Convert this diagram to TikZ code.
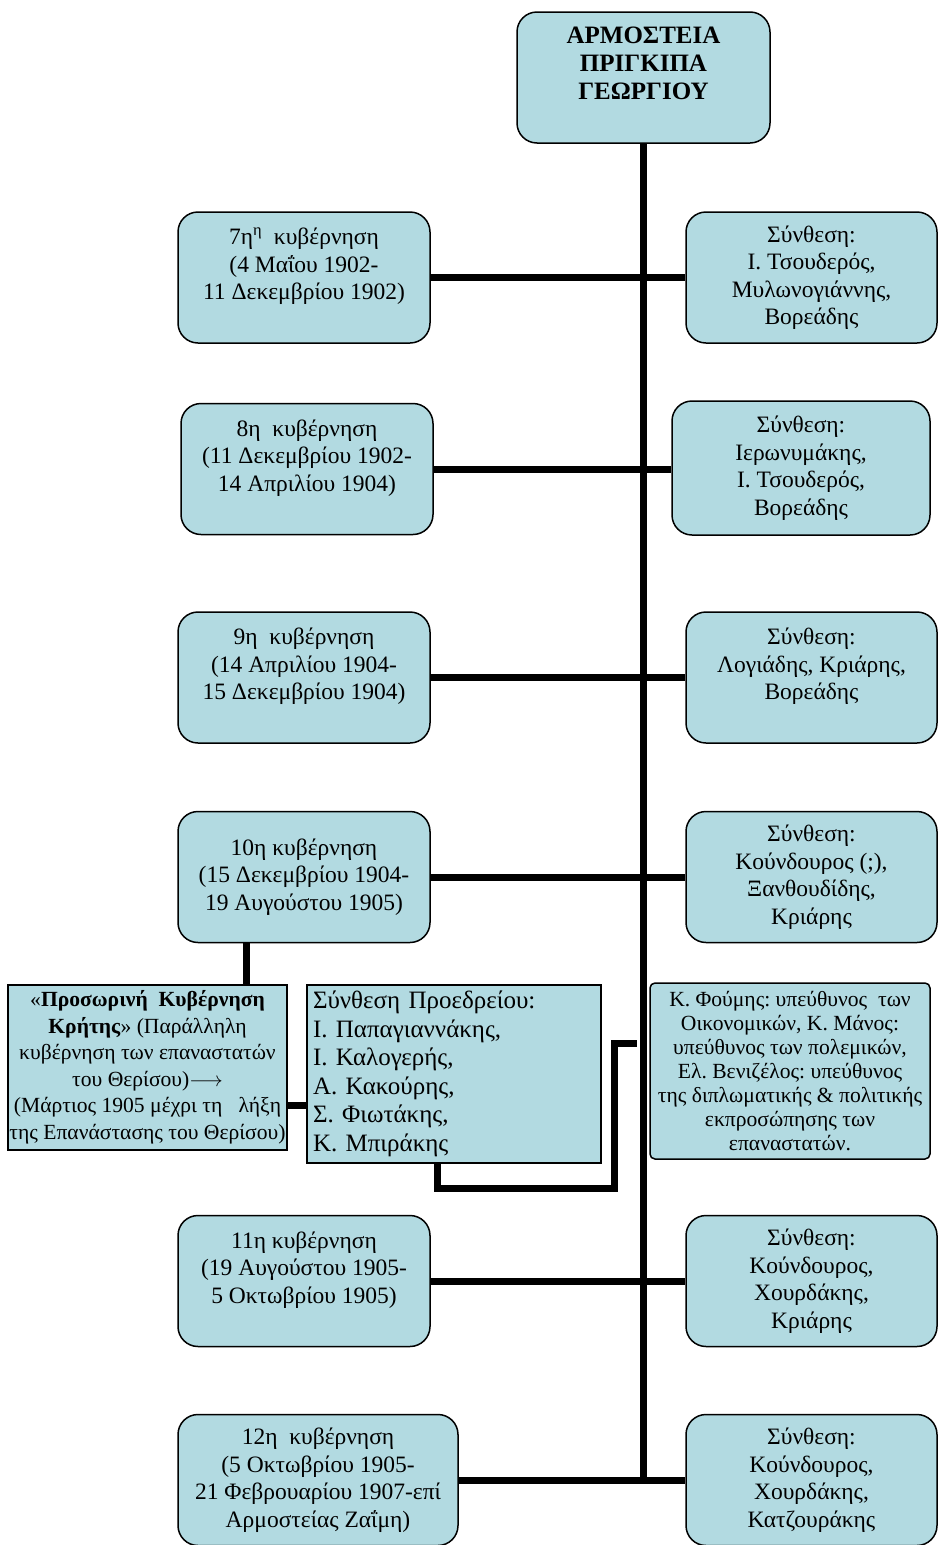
\documentclass[tikz,border=0pt]{standalone}
\usepackage{fontspec}
\setmainfont{Liberation Serif}
\frenchspacing
\definecolor{armblue}{RGB}{178,218,225}

\begin{document}
\begin{tikzpicture}[x=1pt, y=-1pt,
    govt/.style={draw, fill=armblue, line width=1.5pt, rounded corners=20pt, minimum width=252pt, minimum height=131pt, inner sep=2pt, align=center, font=\fontsize{23.5}{27.5}\selectfont},
    square/.style={draw, fill=armblue, line width=1.5pt, align=center},
    link/.style={line width=7pt}
    ]
    \useasboundingbox (0,0) rectangle (939,1545);
    \clip (0,0) rectangle (939,1545);

    \node[govt, minimum width=253pt, font=\fontsize{25}{28}\selectfont\bfseries] (root) at (643.5,77.5) {ΑΡΜΟΣΤΕΙΑ\\ ΠΡΙΓΚΙΠΑ\\ ΓΕΩΡΓΙΟΥ\\ \mbox{}};

    \node[govt] (g7) at (304,277.5) {7η\textsuperscript{η}\ \ κυβέρνηση\\ (4 Μαΐου 1902-\\ 11 Δεκεμβρίου 1902)\\ \mbox{}};
    \node[govt, minimum width=251pt] (s7) at (811.5,277.5) {Σύνθεση:\\ Ι. Τσουδερός,\\ Μυλωνογιάννης,\\ Βορεάδης};
    \node[govt] (g8) at (307,469) {8η\ \ κυβέρνηση\\ (11 Δεκεμβρίου 1902-\\ 14 Απριλίου 1904)\\ \mbox{}};
    \node[govt, minimum width=258pt, minimum height=134pt] (s8) at (801,468) {Σύνθεση:\\ Ιερωνυμάκης,\\ Ι. Τσουδερός,\\ Βορεάδης};
    \node[govt] (g9) at (304,677.5) {9η\ \ κυβέρνηση\\ (14 Απριλίου 1904-\\ 15 Δεκεμβρίου 1904)\\ \mbox{}};
    \node[govt, minimum width=251pt] (s9) at (811.5,677.5) {Σύνθεση:\\ Λογιάδης, Κριάρης,\\ Βορεάδης\\ \mbox{}};
    \node[govt] (g10) at (304,877) {10η κυβέρνηση\\ (15 Δεκεμβρίου 1904-\\ 19 Αυγούστου 1905)};
    \node[govt, minimum width=251pt] (s10) at (811.5,877) {Σύνθεση:\\ Κούνδουρος (;),\\ Ξανθουδίδης,\\ Κριάρης};
    \node[govt] (g11) at (304,1281) {11η κυβέρνηση\\ (19 Αυγούστου 1905-\\ 5 Οκτωβρίου 1905)\\ \mbox{}};
    \node[govt, minimum width=251pt] (s11) at (811.5,1281) {Σύνθεση:\\ Κούνδουρος,\\ Χουρδάκης,\\ Κριάρης};
    \node[govt, minimum width=280pt] (g12) at (318,1480) {12η\ \ κυβέρνηση\\ (5 Οκτωβρίου 1905-\\ 21 Φεβρουαρίου 1907-επί\\ Αρμοστείας Ζαΐμη)};
    \node[govt, minimum width=251pt] (s12) at (811.5,1480) {Σύνθεση:\\ Κούνδουρος,\\ Χουρδάκης,\\ Κατζουράκης};

    \node[square, minimum width=279pt, minimum height=165pt, inner sep=0pt, font=\fontsize{21.6}{26.5}\selectfont] (prov) at (147.5,1067.5) {«\textbf{Προσωρινή\ \ Κυβέρνηση}\\ \textbf{Κρήτης}» (Παράλληλη\\ κυβέρνηση των επαναστατών\\ του Θερίσου)$\longrightarrow$\\ (Μάρτιος 1905 μέχρι τη\ \ \ λήξη\\ της Επανάστασης του Θερίσου)};
    \node[square, minimum width=294pt, minimum height=178pt, inner sep=6pt, text width=282pt, align=left, font=\fontsize{25}{28.5}\selectfont] (pres) at (454,1074) {Σύνθεση Προεδρείου:\\ Ι. Παπαγιαννάκης,\\ Ι. Καλογερής,\\ Α. Κακούρης,\\ Σ. Φιωτάκης,\\ Κ. Μπιράκης};
    \node[square, rounded corners=5pt, minimum width=280pt, minimum height=176pt, inner sep=1pt, font=\fontsize{21.6}{24}\selectfont] (foum) at (790,1071) {Κ. Φούμης: υπεύθυνος\ \ των\\ Οικονομικών, Κ. Μάνος:\\ υπεύθυνος των πολεμικών,\\ Ελ. Βενιζέλος: υπεύθυνος\\ της διπλωματικής \& πολιτικής\\ εκπροσώπησης των\\ επαναστατών.};

    \draw[link] (root.south) -- (root.south |- g12.east);
    \foreach \gov/\comp in {g7/s7,g8/s8,g9/s9,g10/s10,g11/s11,g12/s12} {
      \draw[link] (\gov.east) -- (\gov.east -| \comp.west);
    };
    \draw[link] ([xshift=-58pt]g10.south) -- ([xshift=-58pt]g10.south |- prov.north);
    \draw[link] ([yshift=-37.5pt]prov.east) -- ([yshift=-37.5pt]prov.east -| pres.west);
    \coordinate (bend) at (614,1188);
    \coordinate (tip) at (637,1043);
    \draw[link] ([xshift=-17pt]pres.south) |- (bend) |- (tip);
\end{tikzpicture}
\end{document}
